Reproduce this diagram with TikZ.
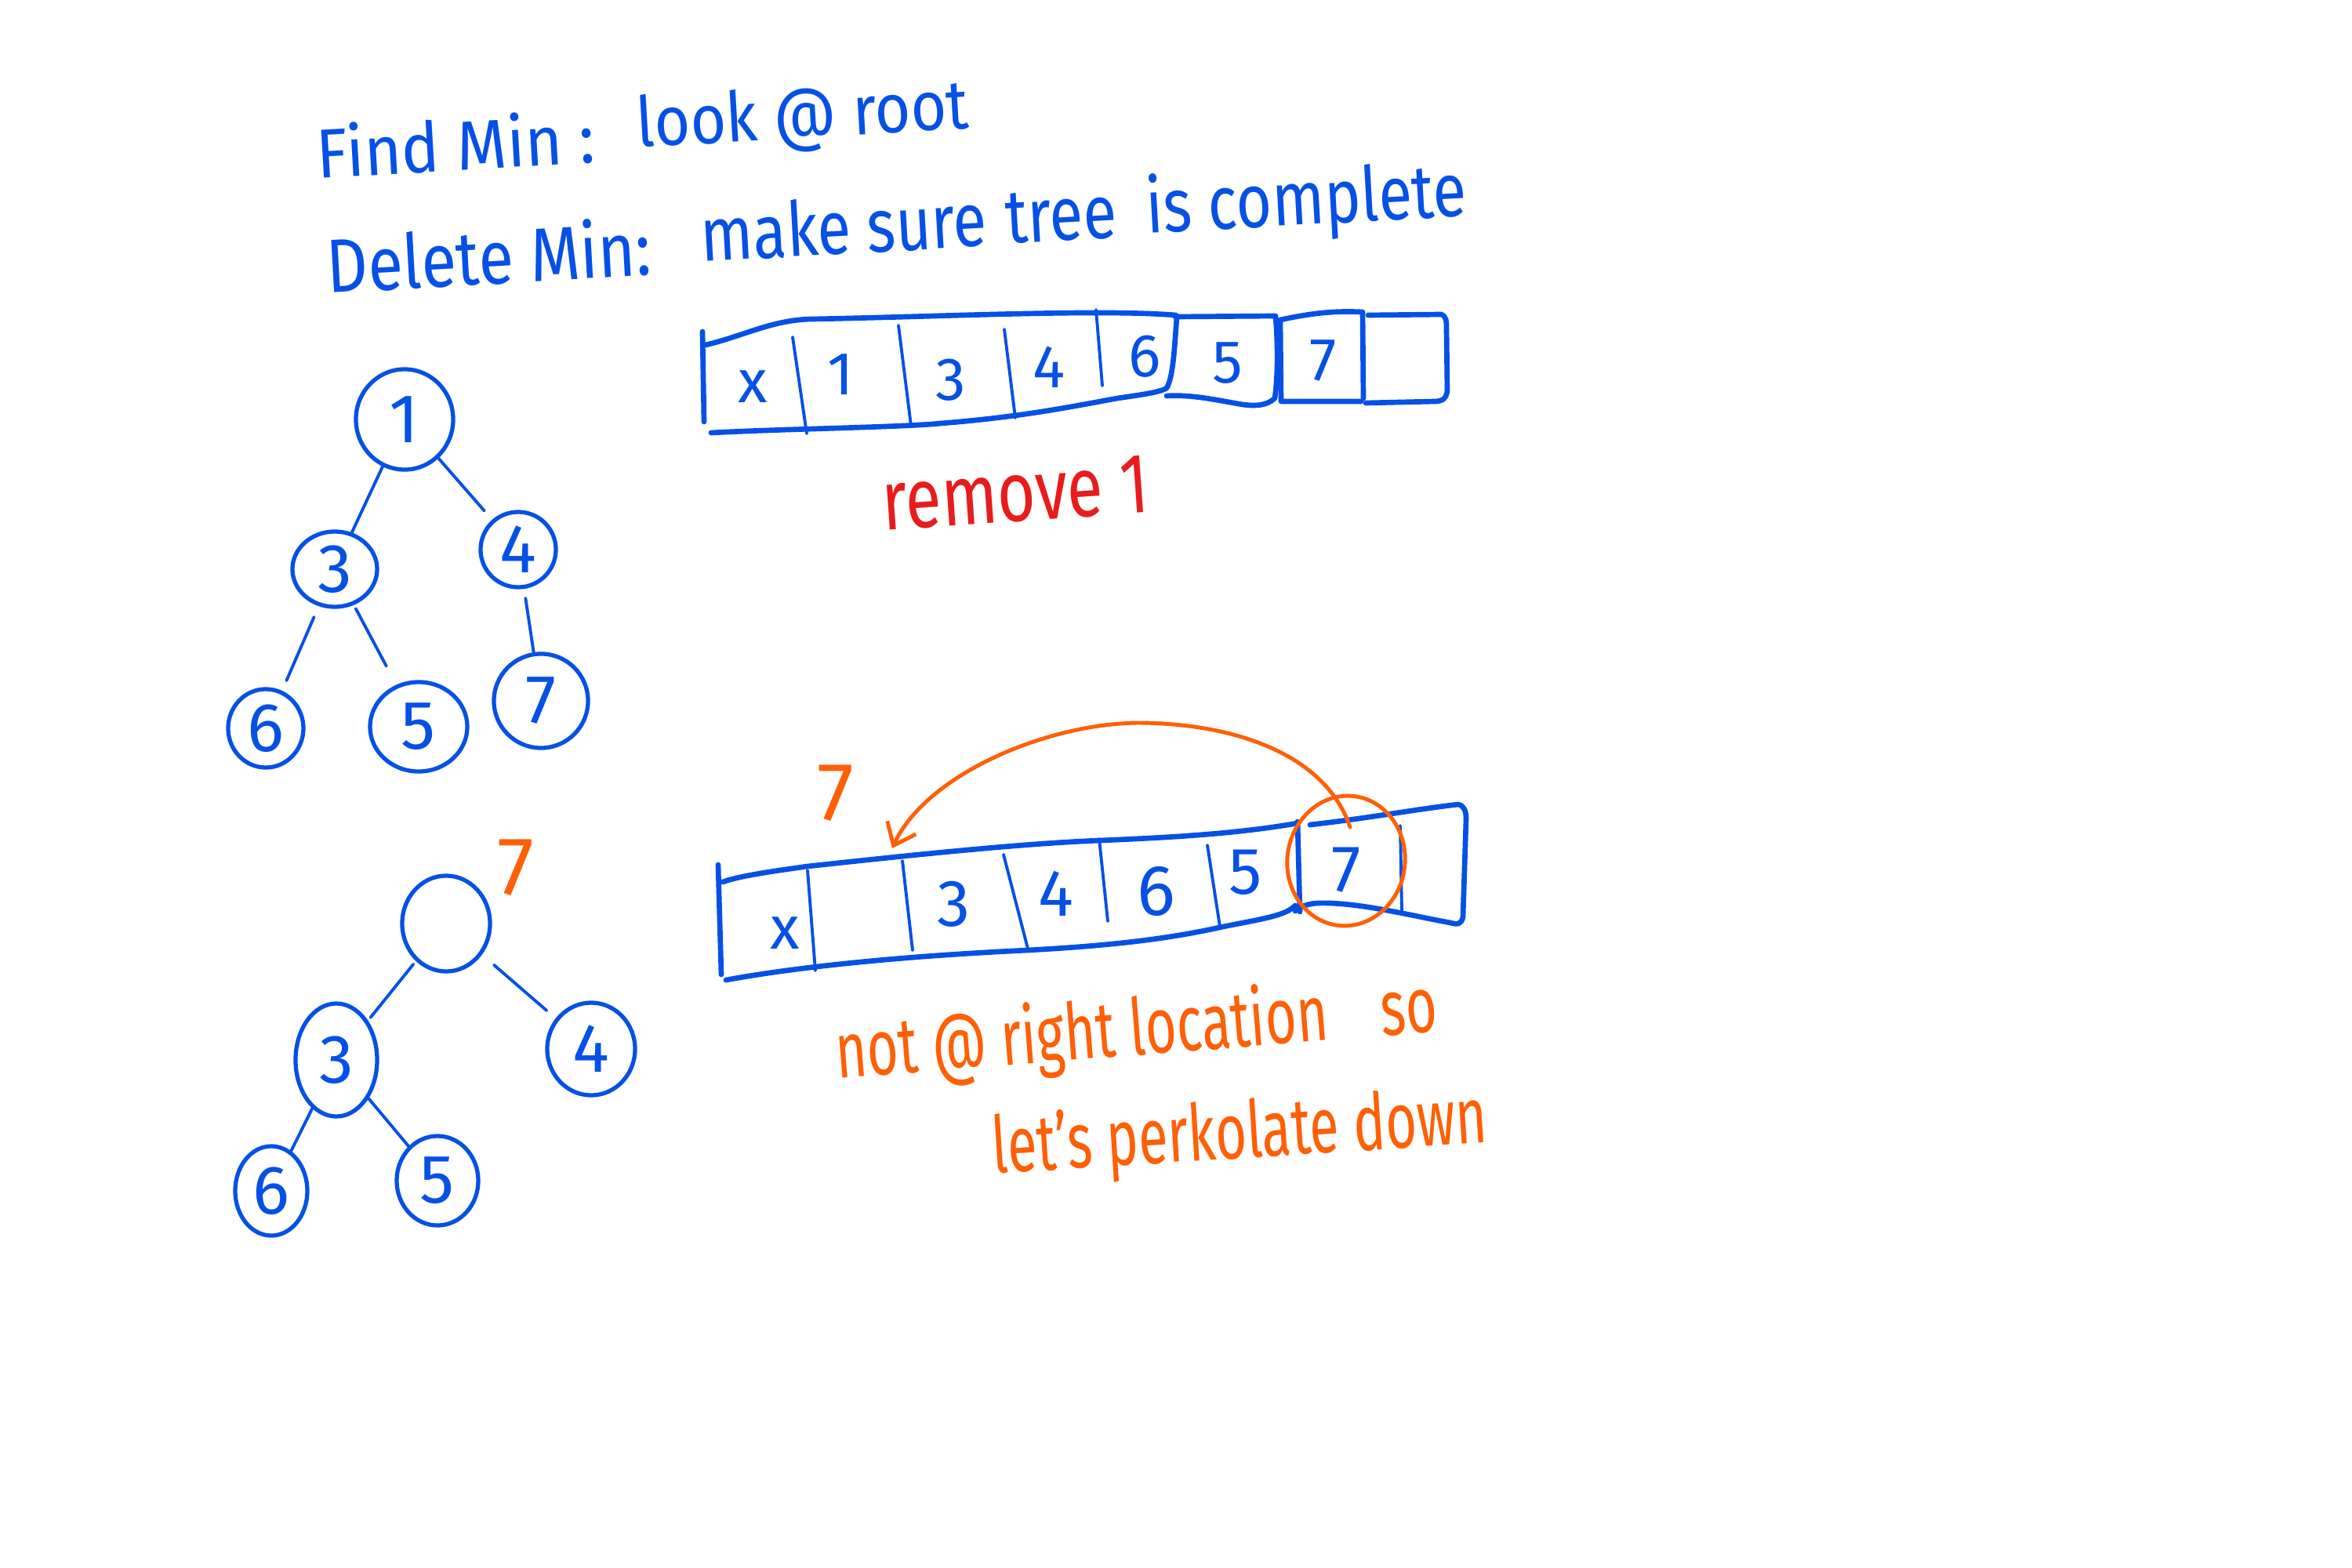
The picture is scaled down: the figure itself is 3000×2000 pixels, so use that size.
\documentclass[tikz,border=0pt]{standalone}
\usepackage{fontspec}
\setmainfont{Fira Sans}
\usetikzlibrary{shapes.geometric,arrows.meta}
\definecolor{pen}{RGB}{5,80,230}
\definecolor{redpen}{RGB}{232,28,28}
\definecolor{orpen}{RGB}{255,95,5}
\begin{document}
\begin{tikzpicture}[x=0.01cm,y=-0.01cm, line cap=round, line join=round,
 circ/.style={draw=pen, line width=1.5pt, ellipse, inner sep=0pt, text=pen, font=\fontsize{25}{25}\selectfont},
 edge/.style={draw=pen, line width=1.1pt},
 frame/.style={draw=pen, line width=1.9pt},
 divl/.style={draw=pen, line width=1.1pt},
 cell/.style={text=pen, inner sep=0pt, font=\fontsize{22}{22}\selectfont},
 bluetxt/.style={text=pen, inner sep=0pt, anchor=base west},
 oratxt/.style={text=orpen, inner sep=0pt, anchor=base west},
]
\useasboundingbox (0,0) rectangle (3000,2000);
\fill[white] (0,0) rectangle (3000,2000);

% headings
\node[bluetxt, rotate=3.3, font=\fontsize{24}{24}\selectfont] (findmin) at (405,228) {\scalebox{0.97}[1.05]{Find Min :}};
\node[bluetxt, rotate=3.3, font=\fontsize{24}{24}\selectfont] (lookroot) at (813,188) {\scalebox{0.93}[1.05]{look @ root}};
\node[bluetxt, rotate=3.2, font=\fontsize{25}{25}\selectfont] (delmin) at (418,374) {\scalebox{0.93}[1.1]{Delete Min:}};
\node[bluetxt, rotate=3.2, font=\fontsize{25}{25}\selectfont] (makesure) at (895,334) {\scalebox{0.89}[1.1]{make sure}};
\node[bluetxt, rotate=3.2, font=\fontsize{25}{25}\selectfont] (tree) at (1284,311) {\scalebox{0.89}[1.1]{tree}};
\node[bluetxt, rotate=3.2, font=\fontsize{25}{25}\selectfont] (iscomplete) at (1463,298) {\scalebox{0.89}[1.1]{is complete}};

% tree 1
\node[circ, minimum width=1.24cm, minimum height=1.28cm] (a1) at (516,535) {1};
\node[circ, minimum width=1.08cm, minimum height=0.96cm] (a3) at (427,726) {3};
\node[circ, minimum width=0.96cm, minimum height=0.96cm] (a4) at (661,701) {4};
\node[circ, minimum width=0.96cm, minimum height=1.0cm] (a6) at (339,929) {6};
\node[circ, minimum width=1.24cm, minimum height=1.14cm] (a5) at (534,927) {5};
\node[circ, minimum width=1.2cm, minimum height=1.2cm] (a7) at (690,894) {7};
\draw[edge] (a1) -- (a3);
\draw[edge, shorten >=1.5mm] (a1) -- (a4);
\draw[edge, shorten <=1.5mm, shorten >=1.4mm] (a3) -- (a6);
\draw[edge, shorten <=0.5mm, shorten >=2.7mm] (a3) -- (a5);
\draw[edge, shorten <=1.2mm] (a4) -- (a7);

% top array
\draw[frame] (896,423) -- (898,538);
\draw[frame] (900,440) .. controls (950,428) and (985,408) .. (1035,407) .. controls (1200,404) and (1400,394) .. (1500,402);
\draw[frame] (1501,405) .. controls (1498,440) and (1497,480) .. (1488,495);
\draw[frame] (907,552) .. controls (1000,547) and (1150,545) .. (1200,540) .. controls (1300,532) and (1360,520) .. (1425,508) .. controls (1460,503) and (1480,500) .. (1488,495);
\draw[divl] (1011,430) -- (1029,553);
\draw[divl] (1146,415) -- (1162,543);
\draw[divl] (1281,420) -- (1295,533);
\draw[divl] (1398,395) -- (1406,492);
\draw[frame] (1499,404) -- (1627,403) .. controls (1630,440) and (1630,480) .. (1626,508) .. controls (1615,518) and (1600,518) .. (1585,516) .. controls (1550,510) and (1520,503) .. (1488,505);
\draw[frame] (1633,410) -- (1634,512) -- (1736,512);
\draw[frame] (1633,408) .. controls (1670,400) and (1700,396) .. (1738,398) -- (1739,508);
\draw[frame] (1745,402) -- (1838,401) .. controls (1845,403) and (1845,410) .. (1845,420) -- (1846,498) .. controls (1845,508) and (1840,512) .. (1830,512) -- (1742,514);
\node[cell] (t0) at (960,493) {x};
\node[cell] (t1) at (1072,478) {1};
\node[cell] (t2) at (1213,485) {3};
\node[cell] (t3) at (1338,468) {4};
\node[cell] (t4) at (1460,455) {6};
\node[cell] (t5) at (1566,463) {5};
\node[cell] (t6) at (1688,460) {7};

\node[text=redpen, inner sep=0pt, anchor=base west, rotate=4, font=\fontsize{28}{28}\selectfont] (rem) at (1127,677) {\scalebox{0.85}[1.1]{remove 1}};

% tree 2
\node[circ, minimum width=1.12cm, minimum height=1.22cm] (b0) at (569,1178) {};
\node[circ, minimum width=1.04cm, minimum height=1.44cm] (b3) at (429,1352) {3};
\node[circ, minimum width=1.12cm, minimum height=1.18cm] (b4) at (754,1338) {4};
\node[circ, minimum width=0.92cm, minimum height=1.14cm] (b6) at (346,1519) {6};
\node[circ, minimum width=1.04cm, minimum height=1.14cm] (b5) at (558,1506) {5};
\draw[edge, shorten <=0.5mm, shorten >=0.5mm] (b0) -- (b3);
\draw[edge, shorten <=2mm, shorten >=1.5mm] (b0) -- (b4);
\draw[edge] (b3) -- (b6);
\draw[edge] (b3) -- (b5);
\node[text=orpen, inner sep=0pt, font=\fontsize{30}{30}\selectfont] (seven1) at (658,1107) {7};

% bottom array
\draw[frame] (916,1103) -- (920,1243);
\draw[divl] (1030,1110) -- (1040,1238);
\draw[frame] (922,1125) .. controls (940,1118) and (980,1112) .. (1030,1105) .. controls (1150,1092) and (1300,1076) .. (1403,1072) .. controls (1500,1068) and (1580,1063) .. (1655,1050);
\draw[frame] (1671,1052) .. controls (1750,1043) and (1800,1033) .. (1860,1026) .. controls (1868,1028) and (1870,1035) .. (1870,1045) -- (1866,1170) .. controls (1864,1178) and (1860,1180) .. (1850,1177) .. controls (1800,1168) and (1730,1150) .. (1680,1152) .. controls (1665,1153) and (1657,1158) .. (1652,1162);
\draw[frame] (926,1250) .. controls (980,1240) and (1100,1222) .. (1311,1212) .. controls (1400,1207) and (1480,1200) .. (1560,1182) .. controls (1610,1172) and (1640,1168) .. (1652,1155);
\draw[divl] (1151,1098) -- (1164,1212);
\draw[divl] (1280,1090) -- (1311,1210);
\draw[divl] (1402,1070) -- (1413,1175);
\draw[divl] (1540,1078) -- (1556,1182);
\draw[frame] (1655,1048) -- (1658,1163);
\draw[divl] (1786,1053) -- (1788,1163);
\node[cell] (u0) at (1001,1190) {x};
\node[cell, font=\fontsize{24}{24}\selectfont] (u2) at (1217,1153) {3};
\node[cell, font=\fontsize{24}{24}\selectfont] (u3) at (1347,1140) {4};
\node[cell, font=\fontsize{26}{26}\selectfont] (u4) at (1475,1137) {6};
\node[cell, font=\fontsize{24}{24}\selectfont] (u5) at (1589,1113) {5};
\node[cell, font=\fontsize{24}{24}\selectfont] (u6) at (1717,1110) {7};

% orange move
\node[draw=orpen, line width=1.4pt, ellipse, inner sep=0pt, minimum width=1.5cm, minimum height=1.66cm, rotate=-8] (o7) at (1717,1098) {};
\coordinate (as) at (1722,1055);
\coordinate (ae) at (1138,1082);
\draw[orpen, line width=1.4pt, -{Straight Barb[length=2.5mm, width=4mm]}] (as) .. controls (1690,960) and (1570,922) .. (1450,922) .. controls (1330,924) and (1180,990) .. (ae);
\node[text=orpen, inner sep=0pt, font=\fontsize{30}{30}\selectfont] (seven2) at (1066,1012) {7};

\node[oratxt, rotate=4.5, font=\fontsize{26}{26}\selectfont] (notat) at (1068,1376) {\scalebox{0.75}[1.1]{not @ right location\hspace{0.9cm}so}};
\node[oratxt, rotate=3.6, font=\fontsize{26}{26}\selectfont] (perk) at (1267,1497) {\scalebox{0.75}[1.1]{let's perkolate down}};
\end{tikzpicture}
\end{document}
